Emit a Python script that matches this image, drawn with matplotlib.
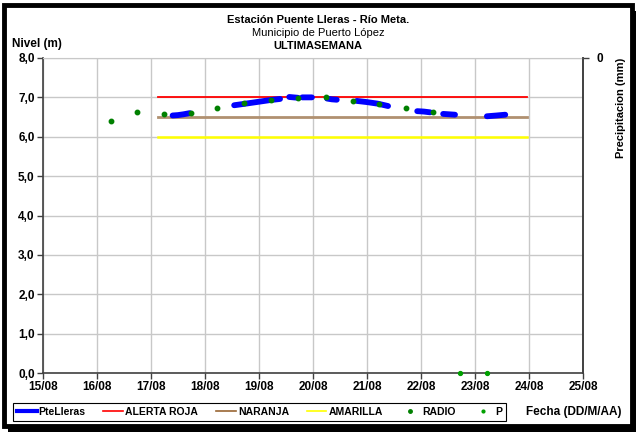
import numpy as np
import matplotlib
matplotlib.use("Agg")
import matplotlib.pyplot as plt
from matplotlib.lines import Line2D
from matplotlib import font_manager

# --- data (day of August, level in m) ---
pte_dias = [17.40, 17.50, 17.60, 17.72, np.nan,
            18.54, 18.75, 19.00, 19.20, 19.39, np.nan,
            19.56, 19.64, 19.72, np.nan,
            19.80, 19.90, 19.98, np.nan,
            20.26, 20.35, 20.44, np.nan,
            20.81, 21.00, 21.20, 21.39, np.nan,
            21.93, 22.05, 22.17, np.nan,
            22.41, 22.52, 22.63, np.nan,
            23.22, 23.40, 23.56]
pte_nivel = [6.54, 6.55, 6.57, 6.60, np.nan,
             6.80, 6.84, 6.89, 6.93, 6.96, np.nan,
             7.01, 7.00, 6.99, np.nan,
             7.00, 7.00, 7.00, np.nan,
             6.97, 6.95, 6.94, np.nan,
             6.91, 6.88, 6.84, 6.78, np.nan,
             6.65, 6.64, 6.62, np.nan,
             6.58, 6.57, 6.56, np.nan,
             6.52, 6.54, 6.56]

umbral_dias = [17.13, 23.96]
alerta_roja = 7.0
naranja = 6.5
amarilla = 6.0

radio_dias = [16.25, 16.74, 17.24, 17.74, 18.23, 18.73, 19.23, 19.73,
              20.24, 20.74, 21.23, 21.73, 22.23]
radio_nivel = [6.40, 6.63, 6.58, 6.60, 6.72, 6.85, 6.94, 6.99,
               7.02, 6.92, 6.82, 6.74, 6.62]

p_dias = [22.73, 23.23]
p_valor = [0.0, 0.0]

dias_ticks = list(range(15, 26))
dias_labels = ["%02d/08" % d for d in dias_ticks]
nivel_ticks = [0, 1, 2, 3, 4, 5, 6, 7, 8]
nivel_labels = ["%d,0" % v for v in nivel_ticks]

# fonts
avail = set(f.name for f in font_manager.fontManager.ttflist)
fams = [f for f in ["Liberation Sans Narrow", "Liberation Sans", "DejaVu Sans"] if f in avail]
plt.rcParams["font.family"] = fams
fs = 8

fig = plt.figure(figsize=(6.36, 4.32), dpi=100)
ax = fig.add_axes([43/636, 59/432, 540/636, 315/432])

ax.plot(pte_dias, pte_nivel, color="#0000ff", lw=4.2, solid_capstyle="round", zorder=4)
ax.plot(umbral_dias, [alerta_roja]*2, color="#ff0000", lw=1.3, zorder=3)
ax.plot(umbral_dias, [naranja]*2, color="#b09070", lw=2.0, zorder=3)
ax.plot(umbral_dias, [amarilla]*2, color="#ffff00", lw=1.8, zorder=3)
ax.plot(radio_dias, radio_nivel, "o", color="#008000", ms=3.2, zorder=5)
ax.plot(p_dias, p_valor, "o", color="#00a000", ms=2.8, zorder=5, clip_on=False)

ax.set_xlim(15, 25)
ax.set_ylim(0, 8)
ax.set_xticks(dias_ticks)
ax.set_xticklabels(dias_labels, fontsize=8.5, fontweight="bold")
ax.set_yticks(nivel_ticks)
ax.set_yticklabels(nivel_labels, fontsize=8.5, fontweight="bold")
ax.grid(True, color="#c8c8c8", lw=1.0)
ax.set_axisbelow(True)
ax.tick_params(direction="out", length=4, width=1, color="#404040", pad=2)
for s in ["left", "bottom"]:
    ax.spines[s].set_color("#404040")
    ax.spines[s].set_linewidth(1.2)
ax.spines["top"].set_color("#c8c8c8")
ax.spines["right"].set_color("#404040")
ax.spines["right"].set_linewidth(1.2)

ax2 = ax.twinx()
ax2.set_ylim(100, 0)
ax2.set_yticks([0])
ax2.set_yticklabels(["0"], fontsize=8.5, fontweight="bold")
ax2.tick_params(direction="out", length=4, width=1, color="#404040", pad=6)
for s in ["left", "bottom", "top"]:
    ax2.spines[s].set_visible(False)
ax2.spines["right"].set_color("#404040")
ax2.spines["right"].set_linewidth(1.2)

fig.text(621/636, 1 - 108/432, "Precipitacion (mm)", rotation=90, ha="center", va="center",
         fontsize=fs, fontweight="bold")
fig.text(12/636, 1 - 44/432, "Nivel (m)", ha="left", va="center", fontsize=8.5, fontweight="bold")

fig.text(0.5, 1 - 20/432, "Estación Puente Lleras - Río Meta.", ha="center", va="center",
         fontsize=fs, fontweight="bold")
fig.text(0.5, 1 - 33/432, "Municipio de Puerto López", ha="center", va="center", fontsize=fs)
fig.text(0.5, 1 - 46/432, "ULTIMASEMANA", ha="center", va="center", fontsize=fs, fontweight="bold")

fig.text(574/636, 1 - 412/432, "Fecha (DD/M/AA)", ha="center", va="center",
         fontsize=8.5, fontweight="bold")

handles = [
    Line2D([], [], color="#0000ff", lw=3),
    Line2D([], [], color="#ff0000", lw=1.2),
    Line2D([], [], color="#996633", lw=1.2),
    Line2D([], [], color="#ffff00", lw=1.2),
    Line2D([], [], color="#008000", marker="o", ls="none", ms=2.5),
    Line2D([], [], color="#00a000", marker="o", ls="none", ms=2),
]
labels = ["PteLleras", "ALERTA ROJA", "NARANJA", "AMARILLA", "RADIO", "P"]
leg = fig.legend(handles, labels, ncol=6, loc="center left",
                 bbox_to_anchor=(8/636, 1 - 412/432),
                 frameon=True, fancybox=False, edgecolor="black", framealpha=1,
                 prop={"size": 7.5, "weight": "bold"}, handlelength=1.9, handletextpad=0.2,
                 columnspacing=1.7, borderpad=0.35)
leg.get_frame().set_linewidth(0.8)

# outer frame with shadow
fig.patches.append(plt.Rectangle((4/636, 6/432), 628/636, 421/432, transform=fig.transFigure,
                                 fill=False, edgecolor="black", lw=3.5))
fig.patches.append(plt.Rectangle((8/636, 0), 628/636, 5/432, transform=fig.transFigure,
                                 facecolor="black", edgecolor="none"))
fig.patches.append(plt.Rectangle((632/636, 0), 4/636, 421/432, transform=fig.transFigure,
                                 facecolor="black", edgecolor="none"))

fig.savefig("out.png", dpi=100)
